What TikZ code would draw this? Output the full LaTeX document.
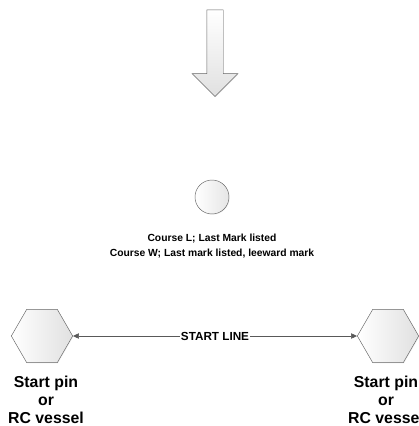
\documentclass[tikz,border=0pt]{standalone}
\usepackage{fontspec}
\setmainfont{Liberation Sans}
\usepackage{tikz}
\usetikzlibrary{shapes.arrows,shapes.geometric}
\usetikzlibrary{arrows.meta,shadows}
\usetikzlibrary{positioning}
\tikzstyle{windarr}=[single arrow,draw=black!60,top color=white,bottom color=black!12,
single arrow head extend=0.435cm,minimum height=2.6cm,minimum width=1.35cm,inner sep=0.24cm,
drop shadow={opacity=0.12,shadow xshift=0.6pt,shadow yshift=-0.6pt}]
\tikzstyle{buoy}=[circle,draw=black!60,left color=white,right color=black!10,minimum size=1.02cm,
inner sep=0,drop shadow={opacity=0.12,shadow xshift=0.6pt,shadow yshift=-0.6pt}]
\tikzstyle{pin}=[regular polygon,regular polygon sides=6,draw=black!60,left color=white,
right color=black!12,minimum size=1.84cm,inner sep=0,
drop shadow={opacity=0.12,shadow xshift=0.6pt,shadow yshift=-0.6pt}]
\tikzstyle{pinlbl}=[align=center,font=\bfseries\fontsize{13.5}{15.4}\selectfont]
\tikzstyle{startln}=[draw=black!65,{Triangle[length=5pt,width=4.5pt]}-{Triangle[length=5pt,width=4.5pt]}]

\begin{document}
\begin{tikzpicture}
	\useasboundingbox (0,0) rectangle (12.57,-12.78);

	\node[windarr,rotate=-90] (WIND) at (6.45,-1.47) {};

	\node[buoy] (MARK) at (6.36,-5.91) {};
	\node[align=center,font=\bfseries\fontsize{8.8}{12.2}\selectfont] (marktxt) at (6.36,-7.38)
	{Course L; Last Mark listed\\Course W; Last mark listed, leeward mark};

	\node[pin] (pinL) at (1.26,-10.08) {};
	\node[pin] (pinR) at (11.64,-10.08) {};

	\path[startln] (pinL.east) -- node[fill=white,inner sep=1pt,
	font=\bfseries\fontsize{10}{12}\selectfont] (sline) {START LINE} (pinR.west);

	\node[pinlbl] (lblL) at (1.38,-12.0) {Start pin\\or\\RC vessel};
	\node[pinlbl] (lblR) at (11.58,-12.0) {Start pin\\or\\RC vessel};
\end{tikzpicture}
\end{document}
